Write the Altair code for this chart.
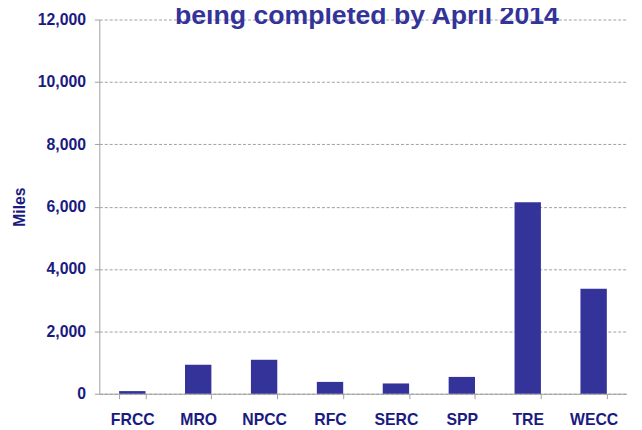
import altair as alt
import pandas as pd

regions = ["FRCC", "MRO", "NPCC", "RFC", "SERC", "SPP", "TRE", "WECC"]
miles = [85, 930, 1090, 380, 330, 540, 6140, 3370]
y_ticks = [0, 2000, 4000, 6000, 8000, 10000, 12000]
title_text = "being completed by April 2014"

df = pd.DataFrame({"region": regions, "miles": miles})

navy = "#1a1a80"
bar_color = "#333399"

chart = alt.Chart(df).mark_bar(color=bar_color).encode(
    x=alt.X("region:N", sort=regions, title=None,
            scale=alt.Scale(paddingInner=0.6, paddingOuter=0.3),
            axis=alt.Axis(labelAngle=0, labelFont="Liberation Sans", labelFontSize=16,
                          labelFontWeight="bold", labelColor=navy, labelPadding=13,
                          tickBand="extent", tickSize=5, tickColor="#a0a0a0",
                          domainColor="#a0a0a0", grid=False)),
    y=alt.Y("miles:Q", title="Miles",
            scale=alt.Scale(domain=[0, 12000], nice=False),
            axis=alt.Axis(values=y_ticks, format=",.0f", labelFont="Liberation Sans",
                          labelFontSize=16, labelFontWeight="bold", labelColor=navy,
                          labelPadding=9, tickSize=5, tickColor="#a0a0a0",
                          domainColor="#a0a0a0", grid=True, gridColor="#a0a0a0",
                          gridDash=[3, 2], titleFont="Liberation Sans", titleFontSize=16,
                          titleFontWeight="bold", titleColor=navy, titlePadding=10)),
).properties(
    width=534,
    height=379,
    title=alt.TitleParams(title_text, font="Liberation Sans", fontSize=27,
                          fontWeight="bold", color=bar_color, anchor="middle",
                          baseline="alphabetic", offset=-40, dx=4),
    autosize=alt.AutoSizeParams(type="none"),
    padding={"left": 92.5, "top": 9, "right": 7.5, "bottom": 32},
).configure_view(stroke=None)

chart.save("out.html", embed_options={"renderer": "svg", "actions": False})
